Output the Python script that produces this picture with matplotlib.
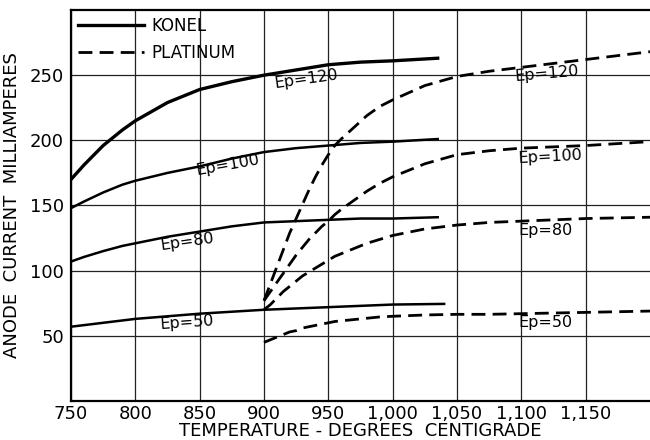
import numpy as np
import matplotlib
matplotlib.use('Agg')
import matplotlib.pyplot as plt

# Konel (solid) curves
konel_t = [750, 760, 775, 790, 800, 825, 850, 875, 900, 925, 950, 975, 1000, 1035]
konel_120 = [170, 181, 196, 208, 215, 229, 239, 245, 250, 254, 258, 260, 261, 263]
konel_100 = [148, 153, 160, 166, 169, 175, 180, 186, 191, 194, 196, 198, 199, 201]
konel_80 = [107, 110.5, 115, 119, 121, 126, 130, 134, 137, 138, 139, 140, 140, 141]
konel_50_t = [750, 800, 850, 900, 950, 1000, 1040]
konel_50 = [57, 63, 67, 70, 72, 74, 74.5]

# Platinum (dashed) curves
plat_t = [900, 905, 910, 915, 920, 925, 930, 935, 940, 945, 950, 955, 960, 970,
          980, 990, 1000, 1025, 1050, 1075, 1100, 1150, 1200]
plat_120 = [77, 90, 103, 116, 129, 140, 151, 162, 172, 181, 189, 196, 201, 210,
            219, 226, 231, 242, 249, 253, 256, 262, 268]
plat_100 = [77, 84, 91, 98, 105, 112, 118, 124, 129, 134, 138, 143, 147, 154,
            161, 167, 172, 182, 189, 192, 194, 196, 199]
plat_80 = [70, 74, 79, 84, 88, 92, 96, 99, 102, 105, 108, 111, 113, 117,
           121, 124, 127, 132, 135, 137, 138, 140, 141]
plat_50 = [45, 47, 49, 51, 53, 54, 56, 57, 58, 59, 60, 61, 61.5, 62.5,
           63.5, 64.5, 65, 66, 66.5, 66.5, 67, 68, 69]

x_ticks = [750, 800, 850, 900, 950, 1000, 1050, 1100, 1150]
x_labels = ['750', '800', '850', '900', '950', '1,000', '1,050', '1,100', '1,150']
y_ticks = [50, 100, 150, 200, 250]

plt.rcParams['font.family'] = ['DejaVu Sans']

fig = plt.figure(figsize=(6.5, 4.4), dpi=100)
ax = fig.add_axes([71/650, 39/440, 579/650, 391/440])

ax.plot(konel_t, konel_120, '-', color='black', lw=2.4)
ax.plot(konel_t, konel_100, '-', color='black', lw=1.8)
ax.plot(konel_t, konel_80, '-', color='black', lw=1.8)
ax.plot(konel_50_t, konel_50, '-', color='black', lw=1.8)

dash = (0, (5, 2.6))
for vals in (plat_120, plat_100, plat_80, plat_50):
    ax.plot(plat_t, vals, color='black', lw=2.0, linestyle=dash)

ax.set_xlim(750, 1200)
ax.set_ylim(0, 300)
ax.set_xticks(x_ticks)
ax.set_xticklabels(x_labels)
ax.set_yticks(y_ticks)
ax.tick_params(length=0, labelsize=13, pad=3)
ax.tick_params(axis='y', pad=5)
ax.grid(True, color='#222222', lw=0.9)
ax.set_axisbelow(True)
for s in ('left', 'bottom', 'top'):
    ax.spines[s].set_linewidth(1.6)
ax.spines['right'].set_visible(False)

ax.set_xlabel('TEMPERATURE - DEGREES  CENTIGRADE', fontsize=13, labelpad=-1)
ax.set_ylabel('ANODE  CURRENT  MILLIAMPERES', fontsize=13, labelpad=6)

# curve labels
lbl = dict(fontsize=11.5, ha='center', va='center', color='black')
ax.text(933, 247, 'Ep=120', rotation=8, **lbl)
ax.text(872, 181, 'Ep=100', rotation=10, **lbl)
ax.text(840, 122, 'Ep=80', rotation=8, **lbl)
ax.text(840, 60, 'Ep=50', rotation=4, **lbl)
ax.text(1120, 251, 'Ep=120', rotation=5, **lbl)
ax.text(1122, 187, 'Ep=100', rotation=3, **lbl)
ax.text(1119, 131, 'Ep=80', rotation=0, **lbl)
ax.text(1119, 60, 'Ep=50', rotation=0, **lbl)

# legend
h1, = ax.plot([], [], '-', color='black', lw=2.4)
h2, = ax.plot([], [], color='black', lw=2.0, linestyle=dash)
leg = ax.legend([h1, h2], ['KONEL', 'PLATINUM'], loc='upper left',
                frameon=False, fontsize=12, handlelength=4.0,
                borderaxespad=0.1, borderpad=0.3, labelspacing=0.55,
                handletextpad=0.4)

fig.savefig('out.png', dpi=100, facecolor='white')
